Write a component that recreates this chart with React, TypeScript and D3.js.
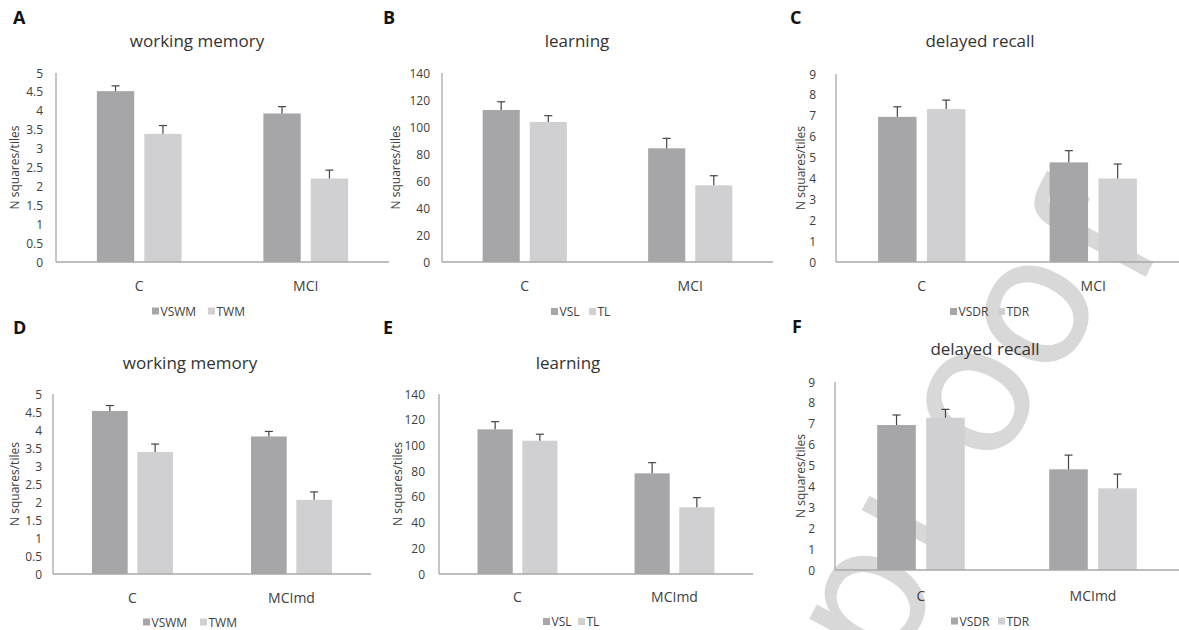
import React from "react";
import * as d3 from "d3";

// categories
const groupsMCI = ["C", "MCI"];
const groupsMCImd = ["C", "MCImd"];

// series names
const wmSeries = ["VSWM", "TWM"];
const learnSeries = ["VSL", "TL"];
const recallSeries = ["VSDR", "TDR"];

// values [group][series]
const wmMCI = [[4.52, 3.39], [3.93, 2.21]];
const wmMCIErr = [[0.14, 0.22], [0.18, 0.22]];
const learnMCI = [[112.6, 103.7], [84.2, 56.8]];
const learnMCIErr = [[6.1, 4.7], [7.4, 7.1]];
const recallMCI = [[6.95, 7.32], [4.77, 4.0]];
const recallMCIErr = [[0.48, 0.43], [0.56, 0.69]];

const wmMCImd = [[4.53, 3.39], [3.82, 2.06]];
const wmMCImdErr = [[0.15, 0.22], [0.14, 0.22]];
const learnMCImd = [[112.5, 103.7], [78.3, 51.9]];
const learnMCImdErr = [[6.0, 5.0], [8.3, 7.5]];
const recallMCImd = [[6.94, 7.29], [4.82, 3.91]];
const recallMCImdErr = [[0.48, 0.4], [0.68, 0.68]];

// y ticks
const wmTicks = [0, 0.5, 1, 1.5, 2, 2.5, 3, 3.5, 4, 4.5, 5];
const learnTicks = [0, 20, 40, 60, 80, 100, 120, 140];
const recallTicks = [0, 1, 2, 3, 4, 5, 6, 7, 8, 9];

const DARK = "#a6a6a9";
const LIGHT = "#d0d0d2";
const TEXT = "#404040";
const AXIS = "#a8a8a8";
const FONT = "'Open Sans', sans-serif";

const panels = [
  { letter: "A", lx: 13, ly: 24, title: "working memory", tx: 197, ty: 40, groups: groupsMCI, series: wmSeries, values: wmMCI, errs: wmMCIErr, ticks: wmTicks,
    x0: 56, x1: 389, yTop: 73, yBase: 262, tickX: 43, axTitleX: 14, catY: 285, legY: 311, leg: [152, 208] },
  { letter: "B", lx: 383, ly: 24, title: "learning", tx: 577, ty: 40, groups: groupsMCI, series: learnSeries, values: learnMCI, errs: learnMCIErr, ticks: learnTicks,
    x0: 442, x1: 773, yTop: 73, yBase: 262, tickX: 430, axTitleX: 395, catY: 285, legY: 311.5, leg: [551, 589] },
  { letter: "C", lx: 790, ly: 24, title: "delayed recall", tx: 980, ty: 40, groups: groupsMCI, series: recallSeries, values: recallMCI, errs: recallMCIErr, ticks: recallTicks,
    x0: 836, x1: 1179, yTop: 74, yBase: 262, tickX: 816, axTitleX: 800, catY: 285, legY: 311.5, leg: [950, 998] },
  { letter: "D", lx: 13, ly: 334, title: "working memory", tx: 190, ty: 362, groups: groupsMCImd, series: wmSeries, values: wmMCImd, errs: wmMCImdErr, ticks: wmTicks,
    x0: 53, x1: 371, yTop: 394, yBase: 574, tickX: 42, axTitleX: 14, catY: 597, legY: 622, leg: [143, 200] },
  { letter: "E", lx: 383, ly: 334, title: "learning", tx: 568, ty: 362, groups: groupsMCImd, series: learnSeries, values: learnMCImd, errs: learnMCImdErr, ticks: learnTicks,
    x0: 439, x1: 753, yTop: 394, yBase: 574, tickX: 425, axTitleX: 397, catY: 596, legY: 621.5, leg: [543, 578] },
  { letter: "F", lx: 792, ly: 333, title: "delayed recall", tx: 985, ty: 348, groups: groupsMCImd, series: recallSeries, values: recallMCImd, errs: recallMCImdErr, ticks: recallTicks,
    x0: 835, x1: 1179, yTop: 382, yBase: 570, tickX: 815, axTitleX: 800, catY: 595, legY: 621, leg: [951, 998] },
];

// watermark letters, placed one by one (centre of x-height)
const watermark = [
  { ch: "p", x: 872, y: 606 },
  { ch: "r", x: 915, y: 515 },
  { ch: "o", x: 978, y: 402 },
  { ch: "o", x: 1037, y: 314 },
  { ch: "f", x: 1108, y: 243 },
];

function Panel({ p }: { p: any }) {
  const x = d3.scaleBand<string>().domain(p.groups).range([p.x0, p.x1]);
  const y = d3.scaleLinear().domain([0, p.ticks[p.ticks.length - 1]]).range([p.yBase, p.yTop]);
  // excel default: gap width 219%, overlap -27%
  const w = x.bandwidth() / 4.46;
  const colors = [DARK, LIGHT];
  const midY = (p.yTop + p.yBase) / 2;

  return (
    <g>
      <text x={p.lx} y={p.ly} fontFamily={FONT} fontWeight="bold" fontSize={18} fill="#111">{p.letter}</text>
      <text x={p.tx} y={p.ty} textAnchor="middle" dominantBaseline="central" fontFamily={FONT} fontSize={17} fill="#333">{p.title}</text>

      {p.groups.map((g: string, gi: number) =>
        p.series.map((s: string, si: number) => {
          const bx = (x(g) as number) + 1.095 * w + si * 1.27 * w;
          const v = p.values[gi][si];
          const e = p.errs[gi][si];
          const cx = bx + w / 2;
          return (
            <g key={g + s}>
              <rect x={bx} y={y(v)} width={w} height={p.yBase - y(v)} fill={colors[si]} />
              <line x1={cx} x2={cx} y1={y(v)} y2={y(v + e)} stroke="#444" strokeWidth={1.2} />
              <line x1={cx - 4} x2={cx + 4} y1={y(v + e)} y2={y(v + e)} stroke="#444" strokeWidth={1.2} />
            </g>
          );
        })
      )}

      <line x1={p.x0} x2={p.x0} y1={p.yTop} y2={p.yBase} stroke={AXIS} strokeWidth={1.3} />
      <line x1={p.x0} x2={p.x1} y1={p.yBase} y2={p.yBase} stroke={AXIS} strokeWidth={1.3} />

      {p.ticks.map((t: number) => (
        <text key={t} x={p.tickX} y={y(t)} textAnchor="end" dominantBaseline="central" fontFamily={FONT} fontSize={12} fill={TEXT}>{String(t)}</text>
      ))}

      <text transform={`translate(${p.axTitleX},${midY}) rotate(-90)`} textAnchor="middle" dominantBaseline="central" fontFamily={FONT} fontSize={12} fill={TEXT}>N squares/tiles</text>

      {p.groups.map((g: string) => (
        <text key={g} x={(x(g) as number) + x.bandwidth() / 2} y={p.catY} textAnchor="middle" dominantBaseline="central" fontFamily={FONT} fontSize={14} fill={TEXT}>{g}</text>
      ))}

      {p.series.map((s: string, si: number) => (
        <g key={s}>
          <rect x={p.leg[si]} y={p.legY - 3.5} width={7} height={7} fill={colors[si]} />
          <text x={p.leg[si] + 8.5} y={p.legY} dominantBaseline="central" fontFamily={FONT} fontSize={12} fill={TEXT}>{s}</text>
        </g>
      ))}
    </g>
  );
}

export default function App() {
  return (
    <div style={{ position: "absolute", left: 0, top: 0 }}>
      <svg width={1179} height={630} style={{ display: "block", background: "#fff" }}>
        {/* "proof" watermark, drawn behind the charts */}
        {watermark.map((l, i) => (
          <text key={i} transform={`translate(${l.x},${l.y}) rotate(-62)`} dy={49} textAnchor="middle"
            fontFamily="'DejaVu Sans', sans-serif" fontSize={180} fill="#d8d8d8">{l.ch}</text>
        ))}
        {panels.map((p) => (
          <Panel key={p.letter} p={p} />
        ))}
      </svg>
    </div>
  );
}
